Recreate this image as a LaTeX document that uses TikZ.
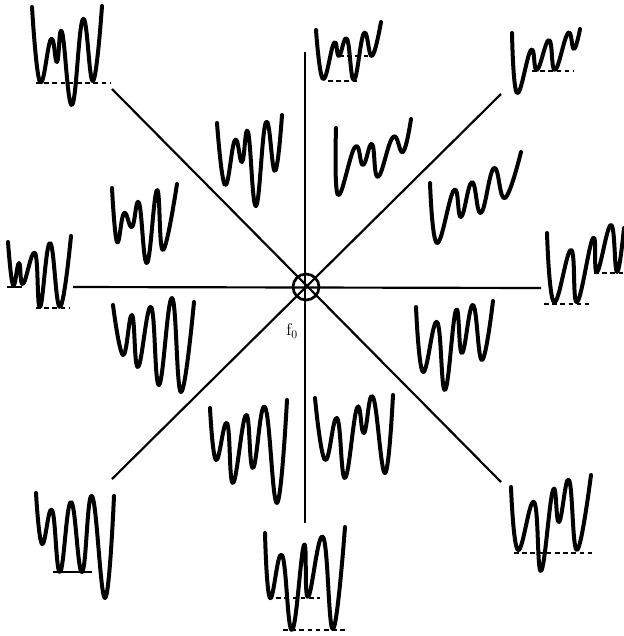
\documentclass[tikz,border=0pt]{standalone}
\usepackage{tikz}

\tikzset{
  spec/.style={line width=1.2mm, line cap=round, line join=round},
  axis/.style={line width=0.65mm},
  base/.style={line width=0.8mm, dash pattern=on 4pt off 3pt},
  solidbase/.style={line width=0.8mm}
}

\begin{document}
\begin{tikzpicture}[x=0.3mm, y=-0.3mm]
        \useasboundingbox (0,0) rectangle (624,636);

        % centre and the eight arms
        \node[draw, circle, line width=0.8mm, minimum size=7.8mm, inner sep=0pt] (c) at (306,287) {};
        \coordinate (n)  at (305,52);
        \coordinate (s)  at (305,523);
        \coordinate (w)  at (73,287);
        \coordinate (e)  at (541,288);
        \coordinate (nw) at (112,89);
        \coordinate (ne) at (501,94);
        \coordinate (sw) at (112,479);
        \coordinate (se) at (501,482);
        \draw[axis] (n) -- (s);
        \draw[axis] (w) -- (e);
        \draw[axis] (nw) -- (se);
        \draw[axis] (ne) -- (sw);
        \node[font=\Large] (f0) at (292,331) {$\mathrm{f}_0$};

        % outer spectra
        \draw[spec] plot[smooth, tension=0.75] coordinates {(32,7) (40,82) (51,39) (57,62) (62,32) (72,105) (83,19) (93,81) (102,6)};
        \draw[base] (36,83) -- (110,83);

        \draw[spec] plot[smooth, tension=0.75] coordinates {(316,30) (323,79) (334,43) (339,56) (347,39) (354,80) (364,33) (372,56) (381,22)};
        \draw[base] (328,81) -- (357,81);
        \draw[base] (339,56) -- (372,56);

        \draw[spec] plot[smooth, tension=0.75] coordinates {(512,33) (517,93) (531,50) (537,70) (549,40) (555,70) (568,33) (574,49) (580,29)};
        \draw[base] (532,71) -- (574,71);

        \draw[spec] plot[smooth, tension=0.75] coordinates {(8,242) (13,285) (19,263) (23,284) (35,253) (40,307) (50,243) (60,307) (71,236)};
        \draw[solidbase] (7,287) -- (22,287);
        \draw[base] (36,308) -- (70,308);

        \draw[spec] plot[smooth, tension=0.75] coordinates {(547,233) (554,302) (571,250) (577,302) (593,238) (597,272) (611,225) (617,272) (624,228)};
        \draw[base] (544,304) -- (589,304);
        \draw[base] (594,273) -- (624,273);

        \draw[spec] plot[smooth, tension=0.75] coordinates {(36,493) (42,544) (52,510) (60,572) (71,502) (82,572) (92,496) (105,598) (114,496)};
        \draw[solidbase] (53,572) -- (92,572);

        \draw[spec] plot[smooth, tension=0.75] coordinates {(265,533) (270,598) (282,555) (292,630) (304,545) (308,597) (323,537) (333,629) (345,527)};
        \draw[base] (268,598) -- (320,598);
        \draw[base] (283,630) -- (347,630);

        \draw[spec] plot[smooth, tension=0.75] coordinates {(511,487) (518,550) (534,502) (541,571) (553,490) (559,522) (569,480) (577,550) (591,475)};
        \draw[base] (514,553) -- (596,553);

        % inner spectra
        \draw[spec] plot[smooth, tension=0.75] coordinates {(217,123) (225,185) (235,140) (242,162) (248,132) (256,206) (266,122) (275,171) (282,115)};
        \draw[spec] plot[smooth, tension=0.75] coordinates {(336,128) (338,195) (355,147) (363,165) (372,144) (378,177) (393,137) (403,152) (411,119)};
        \draw[spec] plot[smooth, tension=0.75] coordinates {(430,183) (437,243) (454,190) (461,217) (472,182) (481,213) (494,168) (505,198) (521,152)};
        \draw[spec] plot[smooth, tension=0.75] coordinates {(112,188) (117,242) (124,213) (132,227) (139,203) (147,263) (157,190) (163,250) (177,184)};
        \draw[spec] plot[smooth, tension=0.75] coordinates {(113,305) (123,355) (132,315) (138,367) (151,307) (159,385) (172,298) (181,392) (194,302)};
        \draw[spec] plot[smooth, tension=0.75] coordinates {(416,307) (423,372) (437,322) (445,390) (456,310) (462,353) (473,305) (482,360) (493,301)};
        \draw[spec] plot[smooth, tension=0.75] coordinates {(210,408) (216,460) (227,423) (233,483) (246,415) (253,468) (265,407) (277,503) (287,400)};
        \draw[spec] plot[smooth, tension=0.75] coordinates {(315,398) (325,460) (337,418) (345,478) (357,408) (364,433) (373,397) (385,473) (393,395)};
    \end{tikzpicture}
\end{document}
